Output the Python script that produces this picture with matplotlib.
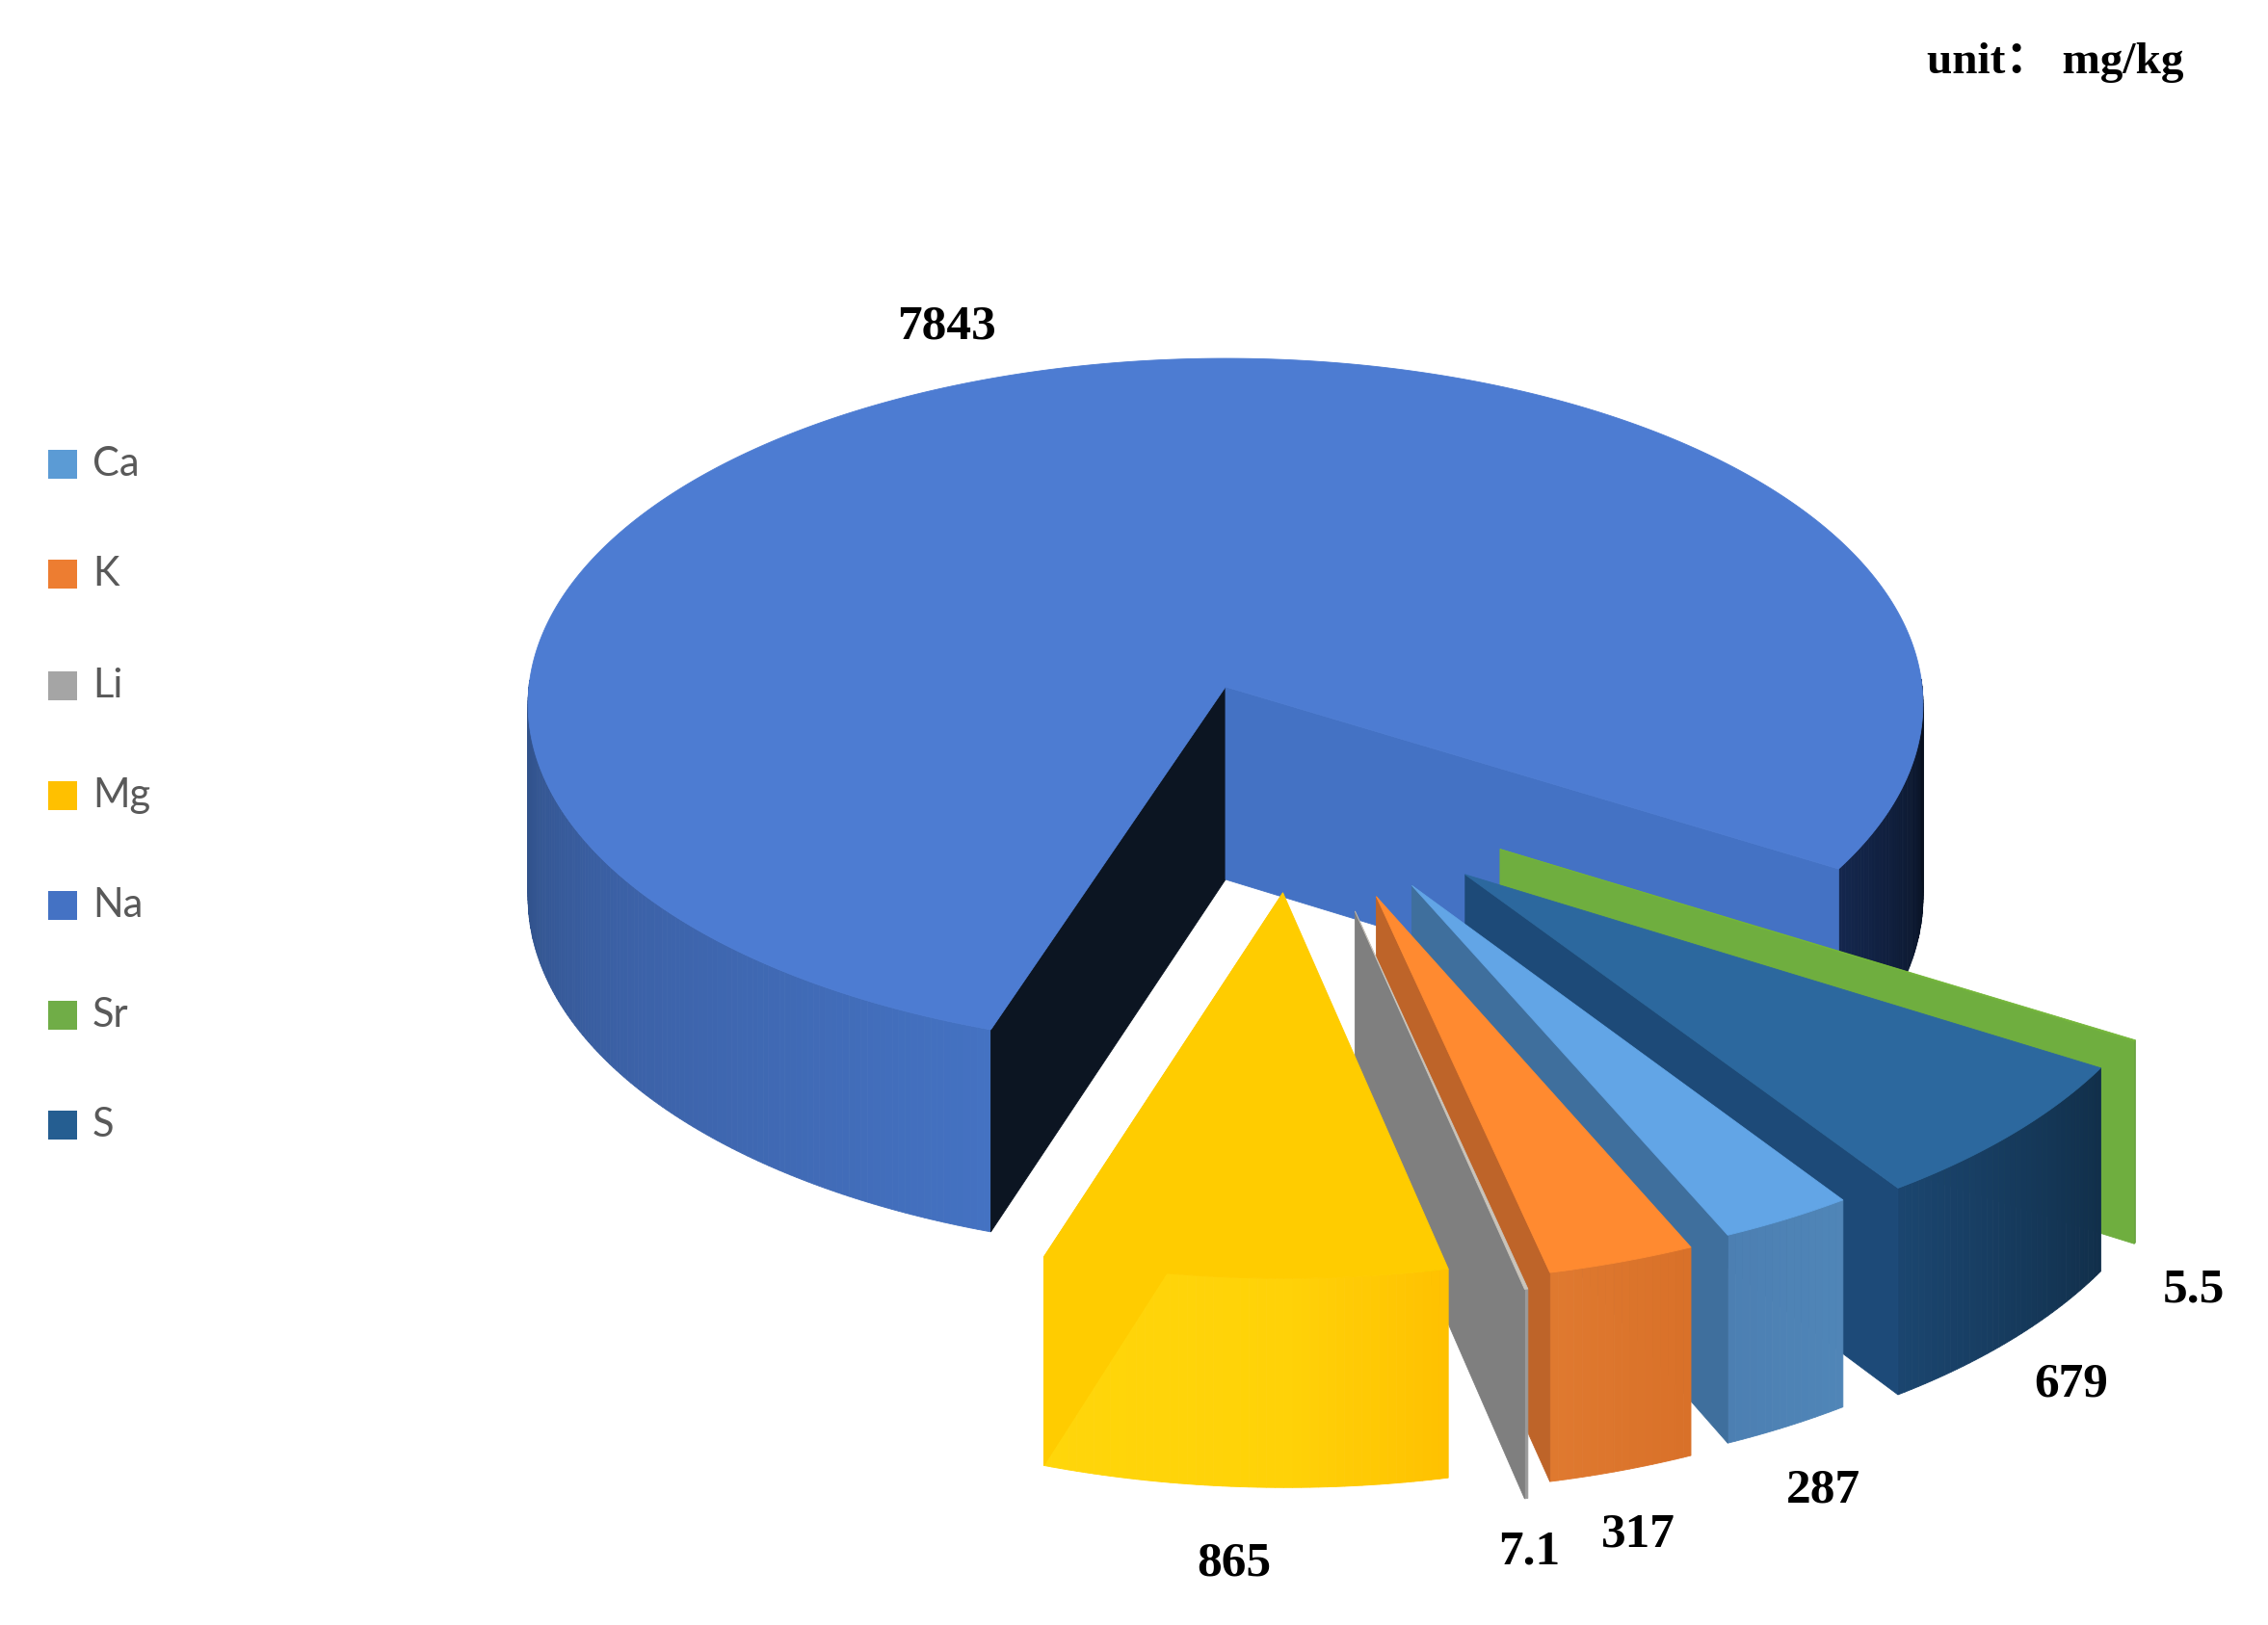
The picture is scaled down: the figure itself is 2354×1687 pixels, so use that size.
import numpy as np
import matplotlib
matplotlib.use("Agg")
import matplotlib.pyplot as plt
from matplotlib.colors import to_rgb
from matplotlib.patches import Polygon, Rectangle

# ---------- data ----------
categories = ["Ca", "K", "Li", "Mg", "Na", "Sr", "S"]
values = [287, 317, 7.1, 865, 7843, 5.5, 679]
value_labels = ["287", "317", "7.1", "865", "7843", "5.5", "679"]

# ---------- style ----------
legend_colors = ["#5B9BD5", "#ED7D31", "#A5A5A5", "#FFC000", "#4472C4", "#70AD47", "#255E91"]
top_colors = ["#62A5E6", "#FF8A30", "#C9C4BB", "#FFCC00", "#4D7CD2", "#74B63A", "#2C689E"]
side_colors = ["#3F6F9D", "#BE6429", "#7F7F7F", "#FFCC00", "#0C1522", "#6FAE3F", "#1D4A78"]
wall_stops = [
    [(294, "#4C7FB2"), (305, "#5086B8")],
    [(282, "#E07A30"), (295, "#D87028")],
    [(282, "#9A9A9A"), (283, "#9A9A9A")],
    [(251, "#FFD60A"), (270, "#FFD208"), (283, "#FFC000")],
    [(0, "#08101E"), (180, "#2F4F86"), (215, "#3C62A8"), (251, "#4472C2"), (329, "#14274E"), (360, "#08101E")],
    [(328, "#5F9A35"), (330, "#5F9A35")],
    [(304, "#1B4670"), (329, "#112F4A")],
]
# per-slice apex shift in pie-radius units (x to the right, y away from viewer)
explode_x = [0.26, 0.21, 0.18, 0.08, 0.0, 0.385, 0.335]
explode_y = [-0.56, -0.59, -0.63, -0.58, 0.0, -0.46, -0.53]
label_x = [1892, 1700, 1587, 1281, 982, 2277, 2150]
label_y = [1548, 1594, 1611, 1623, 339, 1339, 1438]
legend_y = [482, 596, 712, 826, 940, 1054, 1168]

CX, CY, RX, RY, K, H = 1272, 713, 723, 358, 0.05, 200
START_ANGLE = 304.4

W, HT = 2354, 1687
fig = plt.figure(figsize=(W / 100, HT / 100), dpi=100, facecolor="white")
ax = fig.add_axes([0, 0, 1, 1])
ax.set_xlim(0, W)
ax.set_ylim(HT, 0)
ax.axis("off")


def project(x, y, down=0.0):
    s = 1.0 / (1.0 + K * y)
    return CX + RX * x * s, CY - RY * y * s + down * s


def poly(pts, color):
    ax.add_patch(Polygon(pts, closed=True, facecolor=color, edgecolor=color, linewidth=0.6))


def wall_color(stops, deg):
    a = [p[0] for p in stops]
    c = np.array([to_rgb(p[1]) for p in stops])
    d = deg % 360
    return tuple(np.interp(d, a, c[:, i]) for i in range(3))


def side_wall(ex, ey, theta, color):
    t = np.radians(theta)
    x, y = ex + np.cos(t), ey + np.sin(t)
    poly([project(ex, ey), project(x, y), project(x, y, H), project(ex, ey, H)], color)


def draw_slice(i, th_hi, th_lo, right_color=None):
    ex, ey = explode_x[i], explode_y[i]
    n = max(2, int((th_hi - th_lo) * 1.5) + 2)
    th = np.linspace(th_lo, th_hi, n)
    xs = ex + np.cos(np.radians(th))
    ys = ey + np.sin(np.radians(th))
    # outer wall
    for j in range(n - 1):
        mid = 0.5 * (th[j] + th[j + 1])
        if np.sin(np.radians(mid)) < 0.02:
            poly([project(xs[j], ys[j]), project(xs[j + 1], ys[j + 1]),
                  project(xs[j + 1], ys[j + 1], H), project(xs[j], ys[j], H)],
                 wall_color(wall_stops[i], mid))
    # walls along the two cut edges
    if right_color is not None:
        side_wall(ex, ey, th_hi, right_color)
    side_wall(ex, ey, th_lo, side_colors[i])
    # top
    top = [project(ex, ey)] + [project(a, b) for a, b in zip(xs, ys)]
    poly(top, top_colors[i])


total = float(sum(values))
sweeps = [v / total * 360.0 for v in values]
ends = START_ANGLE - np.cumsum(sweeps)
starts = ends + np.array(sweeps)

# main slice first, then the exploded ones from back to front
na = categories.index("Na")
ex_na = explode_x[na]
# Na: left cut wall is nearly black, the right cut wall is mid blue
th_hi, th_lo = starts[na], ends[na]
draw_order = [na, categories.index("Sr"), categories.index("S"), categories.index("Ca"),
              categories.index("K"), categories.index("Li"), categories.index("Mg")]
for i in draw_order:
    if i == na:
        ex, ey = explode_x[i], explode_y[i]
        th = np.linspace(th_lo, th_hi, 500)
        xs, ys = ex + np.cos(np.radians(th)), ey + np.sin(np.radians(th))
        for j in range(len(th) - 1):
            mid = 0.5 * (th[j] + th[j + 1])
            if np.sin(np.radians(mid)) < 0.02:
                poly([project(xs[j], ys[j]), project(xs[j + 1], ys[j + 1]),
                      project(xs[j + 1], ys[j + 1], H), project(xs[j], ys[j], H)],
                     wall_color(wall_stops[i], mid))
        side_wall(ex, ey, th_hi, side_colors[i])   # the dark one, towards the front
        side_wall(ex, ey, th_lo, "#4472C4")
        poly([project(ex, ey)] + [project(a, b) for a, b in zip(xs, ys)], top_colors[i])
    else:
        draw_slice(i, starts[i], ends[i])

# value labels
for i, lab in enumerate(value_labels):
    ax.text(label_x[i], label_y[i], lab, ha="center", va="center", fontsize=37,
            family="Liberation Serif", fontweight="bold", color="black")

ax.text(2267, 65, "unit：", ha="right", va="center", alpha=0) if False else None
ax.text(2266, 65, "unit： mg/kg", ha="right", va="center", fontsize=34,
        family=["Liberation Serif", "Noto Sans CJK SC"], fontweight="bold", color="black")

# legend
for i, c in enumerate(categories):
    ax.add_patch(Rectangle((50, legend_y[i] - 15), 30, 30, facecolor=legend_colors[i], edgecolor="none"))
    ax.text(96, legend_y[i], c, ha="left", va="center", fontsize=30, family="Lato", color="#595959")

fig.savefig("out.png", dpi=100, facecolor="white")
